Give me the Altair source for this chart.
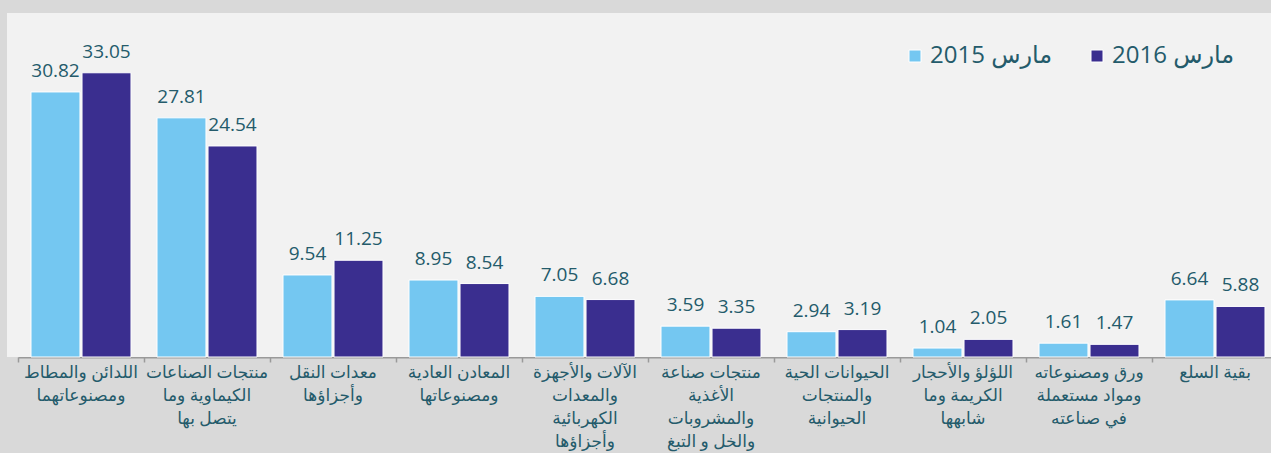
import altair as alt
import pandas as pd

categories = [
    "اللدائن والمطاط|ومصنوعاتهما",
    "منتجات الصناعات|الكيماوية وما|يتصل بها",
    "معدات النقل|وأجزاؤها",
    "المعادن العادية|ومصنوعاتها",
    "الآلات والأجهزة|والمعدات|الكهربائية|وأجزاؤها",
    "منتجات صناعة|الأغذية|والمشروبات|والخل و التبغ",
    "الحيوانات الحية|والمنتجات|الحيوانية",
    "اللؤلؤ والأحجار|الكريمة وما|شابهها",
    "ورق ومصنوعاته|ومواد مستعملة|في صناعته",
    "بقية السلع",
]
series_names = ["مارس 2015", "مارس 2016"]
values_2015 = [30.82, 27.81, 9.54, 8.95, 7.05, 3.59, 2.94, 1.04, 1.61, 6.64]
values_2016 = [33.05, 24.54, 11.25, 8.54, 6.68, 3.35, 3.19, 2.05, 1.47, 5.88]
colors = ["#74c7f1", "#3a2e8f"]

rows = []
for c, v in zip(categories, values_2015):
    rows.append({"cat": c, "series": series_names[0], "value": v})
for c, v in zip(categories, values_2016):
    rows.append({"cat": c, "series": series_names[1], "value": v})
df = pd.DataFrame(rows)

FONT = "Open Sans, DejaVu Sans"
TEXT_COLOR = "#245b6b"
W, H = 1253, 344

x_enc = alt.X(
    "cat:N",
    sort=categories,
    scale=alt.Scale(paddingInner=0, paddingOuter=0, range=[0, 1260]),
    axis=alt.Axis(
        title=None,
        labelAngle=0,
        labelExpr="split(datum.label, '|')",
        labelFont=FONT,
        labelFontSize=17,
        labelColor=TEXT_COLOR,
        labelLineHeight=23.3,
        labelBaseline="top",
        labelPadding=2,
        labelOverlap=False,
        labelBound=False,
        labelLimit=0,
        domainColor="#9a9a9a",
        domainWidth=2,
        tickColor="#9a9a9a",
        tickWidth=1.5,
        tickSize=5,
        bandPosition=0,
    ),
)
xoff = alt.XOffset(
    "series:N",
    sort=series_names,
    scale=alt.Scale(paddingInner=0.04, paddingOuter=0.255),
)
y_enc = alt.Y("value:Q", scale=alt.Scale(domain=[0, 40]), axis=None)

panel = alt.Chart(pd.DataFrame({"a": [1]})).mark_rect(fill="#f2f2f2").encode(
    x=alt.value(-11), x2=alt.value(1260), y=alt.value(0), y2=alt.value(H)
)

bars = alt.Chart(df).mark_bar(stroke="white", strokeWidth=1).encode(
    x=x_enc,
    xOffset=xoff,
    y=y_enc,
    color=alt.Color(
        "series:N",
        scale=alt.Scale(domain=series_names, range=colors),
        legend=alt.Legend(
            title=None,
            orient="none",
            legendX=885,
            legendY=31,
            direction="horizontal",
            symbolType="square",
            symbolSize=144,
            symbolStrokeColor="white",
            symbolStrokeWidth=1,
            labelFont=FONT,
            labelFontSize=24,
            labelColor=TEXT_COLOR,
            labelOffset=3,
            columnPadding=32,
            padding=0,
        ),
    ),
)

labels = alt.Chart(df).mark_text(
    baseline="alphabetic", dy=-15, font=FONT, fontSize=19, color=TEXT_COLOR
).encode(
    x=x_enc,
    xOffset=xoff,
    y=y_enc,
    text=alt.Text("value:Q", format=".2f"),
)

chart = (
    alt.layer(panel, bars, labels)
    .properties(
        width=W,
        height=H,
        background="#d9d9d9",
        padding={"left": 18, "top": 13, "right": 0, "bottom": 96},
        autosize=alt.AutoSizeParams(type="none"),
    )
    .configure_view(stroke=None)
)

chart.save("out.html", embed_options={"renderer": "svg", "actions": False})
